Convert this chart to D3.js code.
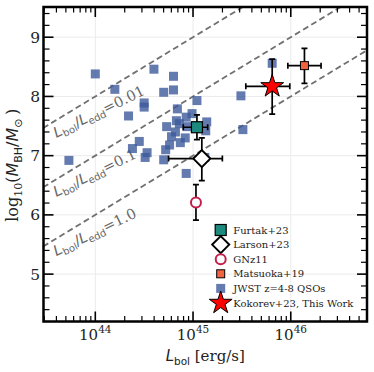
<!DOCTYPE html>
<html lang="en">
<head>
<meta charset="UTF-8">
<title>MBH vs Lbol</title>
<script src="https://d3js.org/d3.v7.min.js"></script>
<style>
  body { margin: 0; padding: 0; background: white; }
  svg { display: block; font-family: 'DejaVu Serif', serif; }
  .math { font-family: 'DejaVu Sans', sans-serif; }
</style>
</head>
<body>
<svg width="374" height="372"></svg>
<script>
// JWST z=4-8 QSOs (log10 Lbol, log10 MBH)
const jwstL = [44.00, 44.20, 44.60, 44.80, 44.80, 44.70, 45.04, 44.50, 44.50, 44.34,
               44.84, 44.99, 44.93, 44.83, 44.73, 44.86, 44.82, 44.78, 44.92, 44.87,
               44.76, 44.45, 44.38, 44.53, 44.51, 44.72, 44.70, 43.73, 45.14, 45.13,
               44.94, 44.93, 45.81, 45.49, 45.51, 45.12];
const jwstM = [8.38, 8.12, 8.46, 8.34, 8.11, 8.07, 7.93, 7.89, 7.82, 7.67,
               7.79, 7.71, 7.65, 7.59, 7.49, 7.54, 7.40, 7.32, 7.30, 7.22,
               7.18, 7.24, 7.12, 7.05, 6.97, 7.10, 6.93, 6.92, 7.57, 7.42,
               7.49, 6.70, 8.56, 8.01, 7.44, 6.97];

// literature objects with error bars
const refNames = ["Furtak+23", "Larson+23", "GNz11", "Matsuoka+19"];
const refL     = [45.04, 45.09, 45.03, 46.14];
const refM     = [7.48, 6.95, 6.21, 8.52];
const refLlo   = [0.14, 0.34, 0, 0.17];
const refLhi   = [0.11, 0.21, 0, 0.17];
const refMlo   = [0.21, 0.37, 0.30, 0.30];
const refMhi   = [0.21, 0.35, 0.30, 0.29];

// this work
const kokL = 45.81, kokM = 8.17;
const kokLlo = 0.27, kokLhi = 0.18, kokMlo = 0.47, kokMhi = 0.46;

// Eddington ratio lines
const eddRatios = ["0.01", "0.1", "1.0"];
const eddOffsets = [36.0, 37.0, 38.0];

const xMajor = [1e44, 1e45, 1e46];
const yMajor = [5, 6, 7, 8, 9];

const svg = d3.select("svg");
const pLeft = 43.5, pRight = 367, pTop = 7, pBottom = 321.5;

const x = d3.scaleLog().domain([Math.pow(10, 43.47), Math.pow(10, 46.78)]).range([pLeft, pRight]);
const y = d3.scaleLinear().domain([4.2, 9.51]).range([pBottom, pTop]);
const X = l => x(Math.pow(10, l));

// minor ticks
const xMinor = [];
for (let e = 43; e <= 46; e++) {
  for (let k = 2; k <= 9; k++) {
    const v = k * Math.pow(10, e);
    if (v > x.domain()[0] && v < x.domain()[1]) xMinor.push(v);
  }
}
const yMinor = d3.range(4.2, 9.51, 0.2).filter(v => Math.abs(v - Math.round(v)) > 0.01);

// grid
svg.append("g").selectAll("line").data(xMajor).enter().append("line")
  .attr("x1", d => x(d)).attr("x2", d => x(d)).attr("y1", pTop).attr("y2", pBottom)
  .attr("stroke", "#ebebeb").attr("stroke-width", 1);
svg.append("g").selectAll("line").data(yMajor).enter().append("line")
  .attr("x1", pLeft).attr("x2", pRight).attr("y1", d => y(d)).attr("y2", d => y(d))
  .attr("stroke", "#ebebeb").attr("stroke-width", 1);

svg.append("clipPath").attr("id", "plotclip").append("rect")
  .attr("x", pLeft).attr("y", pTop).attr("width", pRight - pLeft).attr("height", pBottom - pTop);

const plot = svg.append("g").attr("clip-path", "url(#plotclip)");

// Eddington lines
eddOffsets.forEach(function(off, i) {
  plot.append("line")
    .attr("x1", X(43.3)).attr("y1", y(43.3 - off))
    .attr("x2", X(47)).attr("y2", y(47 - off))
    .attr("stroke", "#707070").attr("stroke-width", 1.8)
    .attr("stroke-dasharray", "6,3.5");

  const lx = 43.6, ly = 43.6 - off - 0.3;
  const t = plot.append("text")
    .attr("transform", "translate(" + X(lx) + "," + y(ly) + ") rotate(-26)")
    .attr("fill", "#666")
    .style("font-size", "14.5px");
  t.append("tspan").attr("class", "math").style("font-style", "italic").text("L");
  t.append("tspan").attr("class", "math").attr("dy", 3).style("font-size", "10px").text("bol");
  t.append("tspan").attr("class", "math").attr("dy", -3).text("/");
  t.append("tspan").attr("class", "math").style("font-style", "italic").text("L");
  t.append("tspan").attr("class", "math").attr("dy", 3).style("font-size", "10px").text("edd");
  t.append("tspan").attr("dy", -3).text("=" + eddRatios[i]);
});

// JWST squares
const jwstColor = "#3d5a9b";
plot.selectAll(".jwst").data(jwstL).enter().append("rect")
  .attr("class", "jwst")
  .attr("x", (d, i) => X(d) - 4.5).attr("y", (d, i) => y(jwstM[i]) - 4.5)
  .attr("width", 9).attr("height", 9)
  .attr("fill", jwstColor).attr("fill-opacity", 0.8);

// error bars
function errbar(g, l, m, llo, lhi, mlo, mhi) {
  const cap = 3;
  if (llo > 0 || lhi > 0) {
    g.append("line").attr("x1", X(l - llo)).attr("x2", X(l + lhi)).attr("y1", y(m)).attr("y2", y(m))
      .attr("stroke", "black").attr("stroke-width", 1.7);
    [l - llo, l + lhi].forEach(v => g.append("line")
      .attr("x1", X(v)).attr("x2", X(v)).attr("y1", y(m) - cap).attr("y2", y(m) + cap)
      .attr("stroke", "black").attr("stroke-width", 1.7));
  }
  if (mlo > 0 || mhi > 0) {
    g.append("line").attr("x1", X(l)).attr("x2", X(l)).attr("y1", y(m - mlo)).attr("y2", y(m + mhi))
      .attr("stroke", "black").attr("stroke-width", 1.7);
    [m - mlo, m + mhi].forEach(v => g.append("line")
      .attr("x1", X(l) - cap).attr("x2", X(l) + cap).attr("y1", y(v)).attr("y2", y(v))
      .attr("stroke", "black").attr("stroke-width", 1.7));
  }
}

const styles = {
  "Furtak+23":  { type: "square", size: 11, fill: "#1d8a80", stroke: "black", sw: 1.2 },
  "Larson+23":  { type: "diamond", size: 8.5, fill: "white", stroke: "black", sw: 2 },
  "GNz11":      { type: "circle", size: 5, fill: "white", stroke: "#c41e4a", sw: 2 },
  "Matsuoka+19":{ type: "square", size: 8, fill: "#f26440", stroke: "black", sw: 1 },
  "JWST z=4-8 QSOs": { type: "square", size: 9, fill: jwstColor, opacity: 0.8, stroke: "none", sw: 0 },
  "Kokorev+23, This Work": { type: "star", size: 12, fill: "red", stroke: "black", sw: 1 }
};

function marker(g, name, cx, cy) {
  const s = styles[name];
  let el;
  if (s.type === "square") {
    el = g.append("rect").attr("x", cx - s.size / 2).attr("y", cy - s.size / 2)
      .attr("width", s.size).attr("height", s.size);
  } else if (s.type === "diamond") {
    const r = s.size;
    el = g.append("path").attr("d", "M" + cx + "," + (cy - r) + "L" + (cx + r) + "," + cy +
      "L" + cx + "," + (cy + r) + "L" + (cx - r) + "," + cy + "Z");
  } else if (s.type === "circle") {
    el = g.append("circle").attr("cx", cx).attr("cy", cy).attr("r", s.size);
  } else {
    el = g.append("path").attr("transform", "translate(" + cx + "," + cy + ")")
      .attr("d", d3.symbol().type(d3.symbolStar).size(s.size * s.size / 0.8908)());
  }
  el.attr("fill", s.fill).attr("stroke", s.stroke).attr("stroke-width", s.sw);
  if (s.opacity) el.attr("fill-opacity", s.opacity);
}

refNames.forEach(function(name, i) {
  const g = plot.append("g");
  errbar(g, refL[i], refM[i], refLlo[i], refLhi[i], refMlo[i], refMhi[i]);
  marker(g, name, X(refL[i]), y(refM[i]));
});

const kg = plot.append("g");
errbar(kg, kokL, kokM, kokLlo, kokLhi, kokMlo, kokMhi);
marker(kg, "Kokorev+23, This Work", X(kokL), y(kokM));

// legend
const legendNames = ["Furtak+23", "Larson+23", "GNz11", "Matsuoka+19", "JWST z=4-8 QSOs", "Kokorev+23, This Work"];
const legendX = 220.7, legendY0 = 230, legendDy = 14.6;
const lg = svg.append("g");
legendNames.forEach(function(name, i) {
  const cy = legendY0 + i * legendDy;
  marker(lg, name, legendX, cy);
  lg.append("text").attr("x", legendX + 12.5).attr("y", cy + 3.6)
    .style("font-size", "10px").attr("fill", "#222").text(name);
});

// ticks (inward, all four sides)
const ax = svg.append("g");
function tick(x1, y1, x2, y2, w) {
  ax.append("line").attr("x1", x1).attr("y1", y1).attr("x2", x2).attr("y2", y2)
    .attr("stroke", "black").attr("stroke-width", w);
}
xMajor.forEach(v => { tick(x(v), pBottom, x(v), pBottom - 10, 1.6); tick(x(v), pTop, x(v), pTop + 10, 1.6); });
xMinor.forEach(v => { tick(x(v), pBottom, x(v), pBottom - 5.5, 1.2); tick(x(v), pTop, x(v), pTop + 5.5, 1.2); });
yMajor.forEach(v => { tick(pLeft, y(v), pLeft + 10, y(v), 1.6); tick(pRight, y(v), pRight - 10, y(v), 1.6); });
yMinor.forEach(v => { tick(pLeft, y(v), pLeft + 6, y(v), 1.2); tick(pRight, y(v), pRight - 6, y(v), 1.2); });

// frame
svg.append("rect").attr("x", pLeft).attr("y", pTop).attr("width", pRight - pLeft).attr("height", pBottom - pTop)
  .attr("fill", "none").attr("stroke", "black").attr("stroke-width", 2.5);

// tick labels
xMajor.forEach(function(v) {
  const t = svg.append("text").attr("x", x(v)).attr("y", 339.5).attr("text-anchor", "middle")
    .style("font-size", "15px").attr("fill", "#222");
  t.append("tspan").text("10");
  t.append("tspan").attr("dy", -7).style("font-size", "10.5px").text(Math.round(Math.log10(v)));
});
yMajor.forEach(function(v) {
  svg.append("text").attr("x", 40).attr("y", y(v) + 5.5).attr("text-anchor", "end")
    .style("font-size", "15.5px").attr("fill", "#222").text(v);
});

// axis labels
const xl = svg.append("text").attr("x", (pLeft + pRight) / 2).attr("y", 361).attr("text-anchor", "middle")
  .style("font-size", "15px").attr("fill", "#222");
xl.append("tspan").attr("class", "math").style("font-style", "italic").text("L");
xl.append("tspan").attr("class", "math").attr("dy", 3.5).style("font-size", "10.5px").text("bol");
xl.append("tspan").attr("dy", -3.5).text(" [erg/s]");

const yl = svg.append("text").attr("transform", "translate(18," + ((pTop + pBottom) / 2 + 1) + ") rotate(-90)")
  .attr("text-anchor", "middle").style("font-size", "16px").attr("fill", "#222");
yl.append("tspan").text("log");
yl.append("tspan").attr("dy", 3.5).style("font-size", "11px").text("10");
yl.append("tspan").attr("dy", -3.5).text("(");
yl.append("tspan").attr("class", "math").style("font-style", "italic").text("M");
yl.append("tspan").attr("class", "math").attr("dy", 3.5).style("font-size", "11px").text("BH");
yl.append("tspan").attr("class", "math").attr("dy", -3.5).text("/");
yl.append("tspan").attr("class", "math").style("font-style", "italic").text("M");
yl.append("tspan").attr("class", "math").attr("dy", 3.5).style("font-size", "11px").text("\u2299 ");
yl.append("tspan").attr("dy", -3.5).text(")");
</script>
</body>
</html>
